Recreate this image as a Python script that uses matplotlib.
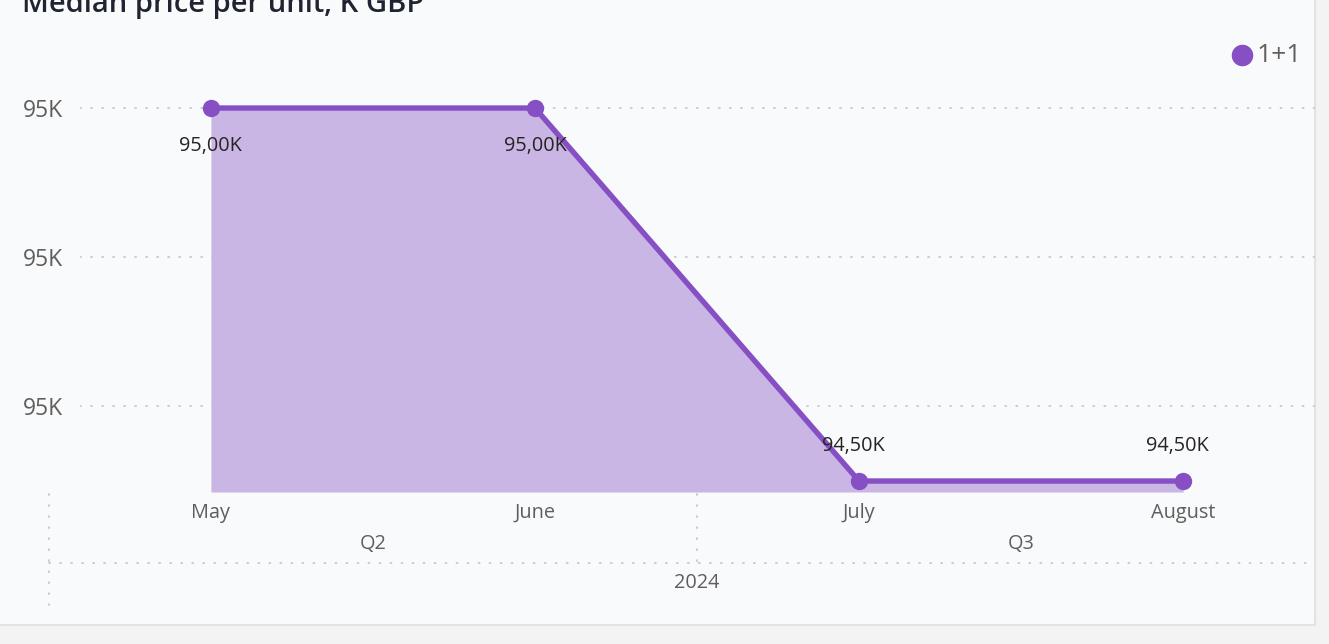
import matplotlib.pyplot as plt
import matplotlib.transforms as mtransforms
from matplotlib.lines import Line2D
from matplotlib.patches import Rectangle

W, H = 1329, 644

months = ["May", "June", "July", "August"]
quarters = ["Q2", "Q3"]
quarter_pos = [0.5, 2.5]
year_label = "2024"
values = [95.00, 95.00, 94.50, 94.50]
value_labels = ["95,00K", "95,00K", "94,50K", "94,50K"]
yticks = [95.0, 94.8, 94.6]
ytick_labels = ["95K", "95K", "95K"]
series_name = "1+1"

LINE = "#8650C4"
FILL = "#C9B6E4"
GRID = "#C8C8C8"
TXT = "#605E5C"
DARK = "#252423"
FONT = "Open Sans"


def fy(py):
    return 1 - py / H


fig = plt.figure(figsize=(W / 100, H / 100), dpi=100)
fig.patch.set_facecolor("#F3F3F4")
fig.patches.append(Rectangle((-0.01, fy(625)), 1315 / W + 0.01, 1 - fy(625) + 0.01,
                             transform=fig.transFigure, facecolor="#F9FAFC",
                             edgecolor="#E3E3E3", linewidth=1.5, zorder=-5))

ax = fig.add_axes([80 / W, fy(492), (1315 - 80) / W, (492 - 40) / H])
ax.set_facecolor("none")
x = list(range(len(months)))
ax.set_xlim(-0.404, 3.407)
ax.set_ylim(94.4853, 95.0912)

ax.fill_between(x, values, 94.4853, color=FILL, linewidth=0, zorder=2)
ax.plot(x, values, color=LINE, linewidth=3.9, marker="o", markersize=11.5,
        solid_capstyle="round", zorder=3, clip_on=False)

for xi, v, lab in zip(x, values, value_labels):
    if v >= 94.9:
        ax.annotate(lab, (xi, v), xytext=(0, -27), textcoords="offset points",
                    ha="center", va="center", fontsize=14.3, color=DARK,
                    family=FONT)
    else:
        ax.annotate(lab, (xi, v), xytext=(-4, 25), textcoords="offset points",
                    ha="center", va="center", fontsize=14.3, color=DARK,
                    family=FONT)

ax.set_yticks(yticks)
ax.set_yticklabels(ytick_labels, fontsize=16.5, color=TXT, family=FONT)
ax.tick_params(axis="y", length=0, pad=12)
ax.set_xticks([])
for gy in yticks:
    ax.plot([-0.404, 3.407], [gy, gy], color=GRID, linewidth=1.3,
            linestyle=(0, (0.6, 5.5)), dash_capstyle="round", zorder=1)
for s in ax.spines.values():
    s.set_visible(False)

# hierarchical x axis
tr = mtransforms.blended_transform_factory(ax.transData, fig.transFigure)
for xi, m in zip(x, months):
    ax.text(xi, fy(513), m, transform=tr, ha="center", va="center",
            fontsize=14.3, color=TXT, family=FONT)
for qx, q in zip(quarter_pos, quarters):
    ax.text(qx, fy(544), q, transform=tr, ha="center", va="center",
            fontsize=14.3, color=TXT, family=FONT)
ax.text(1.5, fy(583), year_label, transform=tr, ha="center", va="center",
        fontsize=14.3, color=TXT, family=FONT)

dot = dict(color=GRID, linewidth=1.3, linestyle=(0, (0.6, 5.5)),
           dash_capstyle="round", transform=tr, clip_on=False)
fig.lines.append(Line2D([-0.5, 3.407], [fy(563), fy(563)], **dot))
fig.lines.append(Line2D([-0.5, -0.5], [fy(494), fy(605)], **dot))
fig.lines.append(Line2D([1.5, 1.5], [fy(494), fy(563)], **dot))

# title (cut off at the top like the reference)
fig.text(22 / W, fy(12), "Median price per unit, K GBP", ha="left",
         va="baseline", fontsize=21, color="#1F2430", family=FONT,
         fontweight="semibold")

# legend
fig.lines.append(Line2D([1242 / W], [fy(55)], marker="o", markersize=14.5,
                        color=LINE, transform=fig.transFigure))
fig.text(1257 / W, fy(55), series_name, ha="left", va="center",
         fontsize=19, color=TXT, family=FONT)

fig.savefig("out.png", dpi=100, facecolor=fig.get_facecolor())
